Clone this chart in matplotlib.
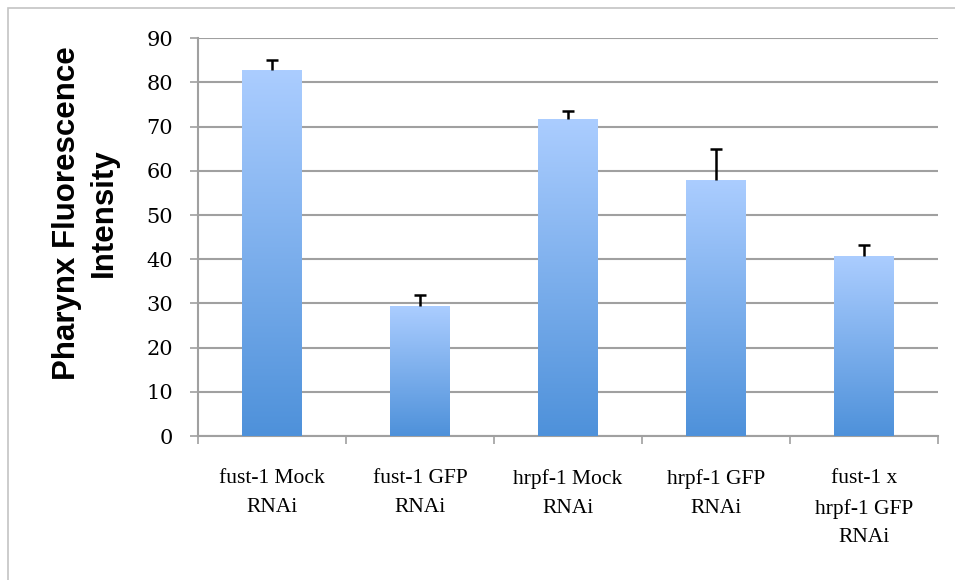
import numpy as np
import matplotlib.pyplot as plt
from matplotlib.colors import LinearSegmentedColormap
from matplotlib.patches import Rectangle

# data
categories = ["fust-1 Mock\nRNAi", "fust-1 GFP\nRNAi", "hrpf-1 Mock\nRNAi",
              "hrpf-1 GFP\nRNAi", "fust-1 x\nhrpf-1 GFP\nRNAi"]
values = [82.8, 29.4, 71.7, 57.9, 40.7]
errors = [2.4, 2.5, 1.9, 7.0, 2.5]
y_ticks = [0, 10, 20, 30, 40, 50, 60, 70, 80, 90]

fig = plt.figure(figsize=(9.55, 5.8), dpi=100)
ax = fig.add_axes([198 / 955, 1 - 436 / 580, 740 / 955, (436 - 38.3) / 580])

# light gray frame around the chart area
fig.patches.append(Rectangle((8 / 955, -0.1), 1.1, 1 - 8 / 580 + 0.1,
                             transform=fig.transFigure, fill=False,
                             edgecolor="#c4c4c4", linewidth=1.2))

x = np.arange(len(categories))
width = 0.405
bars = ax.bar(x, values, width=width, color="none", edgecolor="none", zorder=3)

# vertical gradient inside each bar
cmap = LinearSegmentedColormap.from_list("bluegrad", ["#4e91da", "#abcdff"])
grad = np.linspace(0, 1, 256).reshape(-1, 1)
for b in bars:
    x0, y0 = b.get_x(), b.get_y()
    w, h = b.get_width(), b.get_height()
    im = ax.imshow(grad, cmap=cmap, origin="lower", aspect="auto",
                   extent=(x0, x0 + w, y0, y0 + h), zorder=3)
    im.set_clip_path(b)

eb = ax.errorbar(x, values, yerr=[[0] * len(values), errors], fmt="none",
                 ecolor="black", elinewidth=1.8, capsize=4.5, capthick=1.8,
                 zorder=4)
# only the upper cap is drawn
eb[1][0].set_visible(False)

ax.set_xlim(-0.5, len(categories) - 0.5)
ax.set_ylim(0, 90)
ax.set_yticks(y_ticks)
ax.yaxis.grid(True, color="#a0a0a0", linewidth=1.5)
ax.set_axisbelow(True)

# boundary ticks on x, labels at category centres
ax.set_xticks(np.arange(-0.5, len(categories), 1.0))
ax.set_xticklabels([])
ax.set_xticks(x, minor=True)
ax.set_xticklabels(categories, minor=True, fontfamily="Liberation Serif",
                   fontsize=15.5, linespacing=1.7)
ax.tick_params(axis="x", which="major", length=6, color="#a0a0a0", width=1.2)
ax.tick_params(axis="x", which="minor", length=0, pad=24)
ax.tick_params(axis="y", length=6, color="#a0a0a0", width=1.2, pad=12)
for lbl in ax.get_yticklabels():
    lbl.set_fontfamily("DejaVu Serif")
    lbl.set_fontsize(15)

for s in ["top", "right"]:
    ax.spines[s].set_visible(False)
for s in ["left", "bottom"]:
    ax.spines[s].set_color("#a0a0a0")
    ax.spines[s].set_linewidth(1.5)

fig.text(85 / 955, 1 - 213 / 580, "Pharynx Fluorescence\nIntensity",
         rotation=90, ha="center", va="center", multialignment="center",
         fontfamily="Liberation Sans", fontweight="bold", fontsize=22.5,
         linespacing=1.3)

fig.savefig("out.png", dpi=100)
